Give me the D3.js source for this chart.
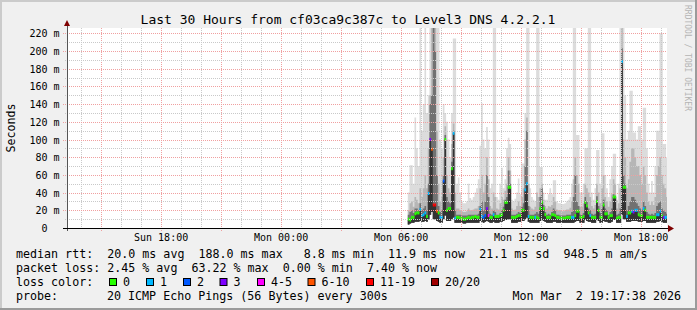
<!DOCTYPE html>
<html>
<head>
<meta charset="utf-8">
<script src="https://cdn.jsdelivr.net/npm/d3@7"></script>
<style>
body { margin: 0; background: #f0f0f0; }
svg { display: block; }
text { font-family: "DejaVu Sans Mono", monospace; white-space: pre; }
</style>
</head>
<body>
<div id="chart"></div>
<script>
// ---- data ----
var title = "Last 30 Hours from cf03ca9c387c to Level3 DNS 4.2.2.1";
var startTime = new Date(2026, 2, 1, 13, 17, 38),
    endTime = new Date(2026, 2, 2, 19, 17, 38),
    firstSample = new Date(2026, 2, 2, 6, 20, 0),
    stepMinutes = 5;

var yMax = 226;
var yTicks = [0, 20, 40, 60, 80, 100, 120, 140, 160, 180, 200, 220];

// median rtt per 5 min sample (ms)
var median = [
  10, 9, 12, 12, 16, 17, 17, 21, 14, 15,   17, 13, 39, 100, 89, 26, 26, 19, 17, 12,
  12, 53, 100, 20, 22, 22, 67, 107, 11, 12, 12, 11, 11, 10, 10, 11, 12, 11, 12, 12,
  13, 12, 12, 21, 13, 12, 14, 22, 14, 12,   12, 15, 13, 13, 13, 14, 15, 20, 29, 29,
  46, 46, 12, 12, 12, 13, 14, 14, 20, 20,   43, 50, 13, 12, 12, 12, 12, 12, 11, 22,
  29, 22, 15, 12, 12, 12, 15, 15, 14, 12,   12, 11, 11, 11, 11, 12, 12, 12, 12, 12,
  14, 19, 19, 12, 12, 13, 29, 25, 17, 14,   12, 12, 12, 30, 20, 12, 12, 26, 16, 16,
  12, 14, 14, 35, 35, 11, 12, 12, 188, 46,  46, 13, 17, 17, 19, 18, 20, 20, 15, 14,
  14, 22, 20, 12, 12, 12, 12, 12, 12, 15,   15, 19, 14, 12, 12, 12
];
// lost pings out of 20
var loss = [
  0, 0, 0, 0, 0, 0, 0, 1, 1, 1,   1, 0, 1, 3, 7, 12, 12, 7, 0, 1,
  1, 2, 0, 0, 0, 0, 0, 1, 1, 0,   0, 0, 0, 0, 0, 0, 0, 0, 0, 0,
  0, 0, 0, 1, 1, 2, 2, 3, 4, 0,   0, 1, 0, 0, 0, 0, 0, 0, 0, 0,
  0, 0, 0, 0, 0, 0, 0, 0, 0, 0,   1, 1, 1, 0, 0, 0, 1, 0, 0, 0,
  0, 0, 0, 0, 0, 0, 0, 0, 0, 0,   0, 0, 0, 0, 0, 0, 0, 0, 1, 1,
  0, 0, 0, 0, 0, 0, 0, 0, 0, 1,   0, 0, 0, 0, 0, 0, 0, 0, 0, 0,
  0, 0, 0, 0, 0, 0, 0, 0, 1, 0,   0, 1, 0, 0, 1, 3, 1, 1, 0, 0,
  0, 1, 0, 0, 0, 0, 0, 0, 0, 1,   1, 1, 0, 3, 1, 1
];
// smoke: lowest ping, 13th, 17th and highest of the 20 pings (ms)
var pingLo = [
  4, 5, 6, 6, 7, 7, 7, 8, 7, 7,   8, 7, 10, 15, 18, 10, 10, 8, 7, 6,
  6, 10, 14, 8, 8, 8, 10, 12, 6, 6,   6, 6, 6, 5, 5, 6, 6, 6, 6, 6,
  6, 6, 6, 8, 7, 6, 7, 8, 7, 6,   6, 7, 6, 6, 6, 7, 7, 8, 9, 9,
  10, 10, 6, 6, 6, 6, 7, 7, 8, 8,   10, 12, 7, 6, 6, 6, 6, 6, 6, 8,
  9, 8, 7, 6, 6, 6, 6, 7, 7, 6,   6, 6, 6, 6, 6, 6, 6, 6, 6, 6,
  7, 8, 8, 6, 6, 6, 9, 8, 7, 7,   6, 6, 6, 9, 8, 6, 6, 8, 7, 7,
  6, 6, 7, 9, 9, 6, 6, 6, 15, 10,   10, 7, 7, 7, 8, 8, 8, 8, 7, 7,
  7, 8, 8, 6, 6, 6, 6, 6, 6, 7,   7, 8, 7, 6, 6, 6
];
var ping13 = [
  15, 18, 20, 17, 22, 22, 20, 28, 20, 22,   25, 20, 50, 140, 150, 240, 200, 60, 25, 18,
  20, 60, 105, 35, 30, 28, 75, 110, 20, 15,   15, 15, 14, 14, 14, 14, 15, 15, 15, 15,
  15, 15, 16, 25, 30, 20, 30, 60, 35, 16,   15, 20, 18, 15, 15, 17, 20, 24, 32, 35,
  65, 50, 15, 15, 15, 16, 18, 17, 24, 28,   70, 110, 25, 15, 15, 15, 16, 18, 16, 35,
  45, 26, 18, 15, 16, 15, 18, 22, 20, 15,   15, 14, 14, 14, 14, 15, 15, 15, 18, 35,
  60, 30, 25, 15, 15, 17, 35, 30, 22, 20,   16, 15, 16, 36, 25, 17, 22, 32, 22, 20,
  15, 18, 22, 38, 36, 15, 16, 22, 203, 60,  50, 20, 25, 30, 35, 35, 32, 28, 25, 22,
  20, 30, 25, 18, 16, 15, 16, 15, 17, 25,   28, 30, 22, 20, 18, 16
];
var ping17 = [
  20, 28, 30, 24, 35, 32, 28, 45, 35, 45,   60, 45, 90, 150, 240, 240, 240, 110, 50, 30,
  35, 80, 115, 60, 45, 40, 95, 118, 40, 22,   22, 20, 19, 18, 18, 19, 22, 20, 20, 21,
  22, 22, 25, 45, 60, 40, 50, 80, 55, 25,   22, 40, 35, 22, 21, 28, 35, 32, 42, 50,
  80, 65, 22, 20, 21, 25, 30, 25, 35, 45,   100, 125, 50, 24, 22, 21, 24, 40, 35, 45,
  50, 32, 25, 22, 25, 24, 26, 35, 30, 21,   20, 20, 19, 19, 20, 21, 21, 23, 30, 55,
  80, 60, 50, 24, 24, 28, 50, 45, 40, 35,   25, 22, 26, 50, 40, 28, 45, 60, 35, 30,
  24, 30, 38, 55, 50, 22, 28, 45, 240, 100,  80, 45, 55, 75, 90, 90, 80, 70, 70, 60,
  50, 70, 60, 40, 30, 26, 30, 26, 35, 60,   70, 80, 60, 50, 45, 35
];
var pingMax = [
  40, 71, 71, 50, 125, 90, 70, 240, 110, 140,   240, 130, 150, 240, 240, 240, 240, 240, 240, 100,
  90, 140, 130, 120, 100, 80, 130, 214, 214, 50,   57, 40, 30, 28, 28, 30, 50, 34, 32, 35,
  40, 45, 55, 93, 141, 100, 90, 114, 100, 45,   50, 240, 240, 35, 32, 50, 68, 45, 55, 90,
  102, 95, 32, 30, 33, 40, 56, 38, 73, 73,   130, 240, 240, 45, 35, 32, 30, 240, 240, 69,
  69, 40, 32, 32, 38, 45, 38, 54, 54, 30,   28, 28, 27, 27, 28, 30, 32, 35, 50, 240,
  240, 105, 105, 40, 40, 50, 90, 90, 240, 240,   40, 32, 45, 88, 88, 50, 107, 107, 60, 45,
  35, 55, 70, 84, 84, 32, 50, 240, 240, 240,   150, 100, 110, 155, 155, 108, 108, 100, 115, 115,
  100, 136, 136, 90, 50, 40, 53, 40, 70, 110,   110, 220, 220, 95, 95, 80
];

var lossBins = [
  { label: "0", upTo: 0, color: "#26ff00" },
  { label: "1", upTo: 1, color: "#00b8ff" },
  { label: "2", upTo: 2, color: "#0059ff" },
  { label: "3", upTo: 3, color: "#7e00ff" },
  { label: "4-5", upTo: 5, color: "#ff00ff" },
  { label: "6-10", upTo: 10, color: "#ff5500" },
  { label: "11-19", upTo: 19, color: "#ff0000" },
  { label: "20/20", upTo: 20, color: "#a00000" }
];

var legendRtt = "median rtt:  20.0 ms avg  188.0 ms max   8.8 ms min  11.9 ms now  21.1 ms sd  948.5 m am/s";
var legendLoss = "packet loss: 2.45 % avg  63.22 % max  0.00 % min  7.40 % now";
var lossBoxX = [109, 146, 183, 219.5, 257, 307.5, 366, 431];
var probeText = "20 ICMP Echo Pings (56 Bytes) every 300s";
var stampText = "Mon Mar  2 19:17:38 2026";

// ---- drawing ----
var width = 697, height = 310;
var plotLeft = 67, plotRight = 667, plotTop = 28, plotBottom = 228;

var svg = d3.select("#chart").append("svg")
    .attr("width", width).attr("height", height);

svg.append("rect").attr("width", width).attr("height", height).attr("fill", "#f0f0f0");
// 3d frame
svg.append("path").attr("d", "M0,0H697V2H2V310H0Z").attr("fill", "#cbcbcb");
svg.append("path").attr("d", "M697,0V310H0V308H695V0Z").attr("fill", "#9b9b9b");

svg.append("rect").attr("x", plotLeft).attr("y", plotTop)
    .attr("width", plotRight - plotLeft).attr("height", plotBottom - plotTop).attr("fill", "#ffffff");

var x = d3.scaleTime().domain([startTime, endTime]).range([plotLeft, plotRight]);
var y = d3.scaleLinear().domain([0, yMax]).range([plotBottom, plotTop]).clamp(true);

var samples = median.map(function(m, i) {
    return {
        t: d3.timeMinute.offset(firstSample, i * stepMinutes),
        med: m, loss: loss[i], lo: pingLo[i], p13: ping13[i], p17: ping17[i], max: pingMax[i]
    };
});
var last = samples[samples.length - 1];
var steps = samples.concat([Object.assign({}, last, { t: d3.timeMinute.offset(last.t, stepMinutes) })]);

var plot = svg.append("g");
plot.append("clipPath").attr("id", "canvas")
    .append("rect").attr("x", plotLeft).attr("y", plotTop)
    .attr("width", plotRight - plotLeft).attr("height", plotBottom - plotTop);

// smoke layers
var smoke = plot.append("g").attr("clip-path", "url(#canvas)");
var layers = [
    { key: "max", color: "#dcdcdc" },
    { key: "p17", color: "#b6b6b6" },
    { key: "p13", color: "#717171" },
    { key: "med", color: "#333333" }
];
layers.forEach(function(l) {
    var area = d3.area()
        .curve(d3.curveStepAfter)
        .x(function(d) { return x(d.t); })
        .y0(function(d) { return y(d.lo); })
        .y1(function(d) { return y(d[l.key]); });
    smoke.append("path").datum(steps).attr("d", area).attr("fill", l.color);
});

// grid (dotted, over the smoke like rrdtool)
var grid = svg.append("g").attr("shape-rendering", "crispEdges");
var hours = d3.timeHour.every(1).range(startTime, endTime);
hours.forEach(function(h) {
    var major = h.getHours() % 3 === 0;
    var xx = Math.round(x(h)) + 0.5;
    grid.append("line")
        .attr("x1", xx).attr("x2", xx).attr("y1", plotTop).attr("y2", plotBottom + (major ? 3 : 2))
        .attr("stroke", major ? "#f0a0a0" : "#c9c9c9")
        .attr("stroke-dasharray", "1,1");
});
d3.range(10, yMax, 10).forEach(function(v) {
    var major = v % 20 === 0;
    var yy = Math.round(y(v)) + 0.5;
    grid.append("line")
        .attr("x1", plotLeft - (major ? 4 : 2)).attr("x2", plotRight).attr("y1", yy).attr("y2", yy)
        .attr("stroke", major ? "#f0a0a0" : "#c9c9c9")
        .attr("stroke-dasharray", "1,1");
});

// median line coloured by loss
function lossColor(n) {
    for (var k = 0; k < lossBins.length; k++) if (n <= lossBins[k].upTo) return lossBins[k].color;
    return lossBins[lossBins.length - 1].color;
}
plot.append("g").attr("clip-path", "url(#canvas)")
    .selectAll("rect").data(samples).enter().append("rect")
    .attr("x", function(d) { return x(d.t); })
    .attr("width", function(d) { return x(d3.timeMinute.offset(d.t, stepMinutes)) - x(d.t); })
    .attr("y", function(d) { return y(d.med) - 1.5; })
    .attr("height", 3)
    .attr("fill", function(d) { return lossColor(d.loss); });

// axes
var axes = svg.append("g").attr("shape-rendering", "crispEdges");
axes.append("line").attr("x1", plotLeft + 0.5).attr("x2", plotLeft + 0.5)
    .attr("y1", plotBottom + 3).attr("y2", plotTop - 4)
    .attr("stroke", "#555");
axes.append("line").attr("x1", plotLeft - 4).attr("x2", plotRight + 2)
    .attr("y1", plotBottom + 0.5).attr("y2", plotBottom + 0.5)
    .attr("stroke", "#000");
svg.append("path").attr("d", "M64,26L70,26L67,20Z").attr("fill", "#7f0000");
svg.append("path").attr("d", "M668,225L668,232L674,228.5Z").attr("fill", "#7f0000");

// y labels
var yl = svg.append("g").attr("font-size", "10px").attr("fill", "#000");
yTicks.forEach(function(v) {
    var yy = Math.round(y(v)) + 4;
    yl.append("text").attr("x", 47.5).attr("y", yy).attr("text-anchor", "end").text(v);
    if (v > 0) yl.append("text").attr("x", 53.5).attr("y", yy).text("m");
});
svg.append("text").attr("font-size", "11.6px")
    .attr("transform", "translate(14.5,128) rotate(-90)")
    .attr("text-anchor", "middle").text("Seconds");

// x labels every 6 hours
var xl = svg.append("g").attr("font-size", "10px");
hours.filter(function(h) { return h.getHours() % 6 === 0; }).forEach(function(h) {
    xl.append("text").attr("x", x(h)).attr("y", 241).attr("text-anchor", "middle")
        .text(d3.timeFormat("%a %H:%M")(h));
});

// title + watermark
svg.append("text").attr("x", 348).attr("y", 24).attr("text-anchor", "middle")
    .attr("font-size", "13px").text(title);
svg.append("text").attr("font-size", "8px").attr("fill", "#b4b4b4")
    .attr("transform", "translate(685,5) rotate(90)").text("RRDTOOL / TOBI OETIKER");

// legend
var lg = svg.append("g").attr("font-size", "11.66px");
lg.append("text").attr("x", 16).attr("y", 258).text(legendRtt);
lg.append("text").attr("x", 16).attr("y", 272).text(legendLoss);
lg.append("text").attr("x", 16).attr("y", 286).text("loss color:");
lossBins.forEach(function(b, i) {
    lg.append("rect").attr("x", lossBoxX[i] + 0.5).attr("y", 278.5).attr("width", 7).attr("height", 7)
        .attr("fill", b.color).attr("stroke", "#000");
    lg.append("text").attr("x", lossBoxX[i] + 14).attr("y", 286).text(b.label);
});
lg.append("text").attr("x", 16).attr("y", 300).text("probe:");
lg.append("text").attr("x", 107).attr("y", 300).text(probeText);
lg.append("text").attr("x", 681).attr("y", 300).attr("text-anchor", "end").text(stampText);
</script>
</body>
</html>
